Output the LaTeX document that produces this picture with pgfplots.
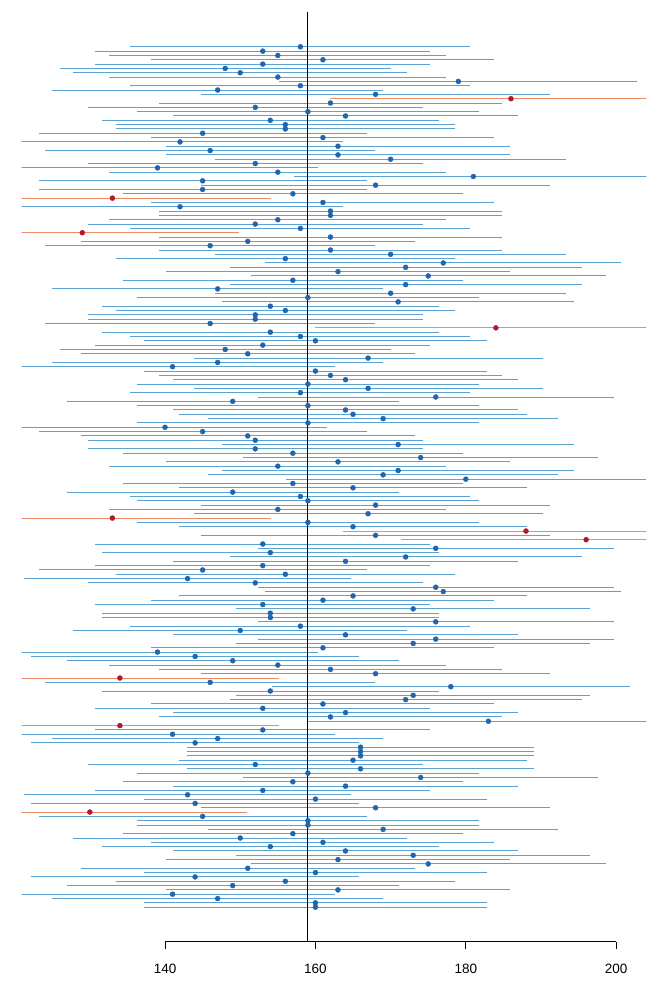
\documentclass[border=0pt]{standalone}
\usepackage{pgfplots}
\usepackage{pgfplotstable}
\pgfplotsset{compat=1.18}
\usepackage{fontspec}
\setmainfont{Liberation Sans}
\definecolor{ptblue}{HTML}{2166AC}
\definecolor{lnblue}{HTML}{5BA3D3}
\definecolor{ptred}{HTML}{B2182B}
\definecolor{lnred}{HTML}{EF8A62}
\pgfplotstableread{
k p e
1 158 22.6
2 153 22.3
3 155 22.4
4 161 22.8
5 153 22.3
6 148 22.0
7 150 22.2
8 155 22.4
9 179 23.8
10 158 22.6
11 147 22.0
12 168 23.2
14 162 22.8
15 152 22.3
16 159 22.7
17 164 23.0
18 154 22.4
19 156 22.5
20 156 22.5
21 145 21.8
22 161 22.8
23 142 21.7
24 163 22.9
25 146 21.9
26 163 22.9
27 170 23.3
28 152 22.3
29 139 21.4
30 155 22.4
31 181 23.9
32 145 21.8
33 168 23.2
34 145 21.8
35 157 22.6
37 161 22.8
38 142 21.7
39 162 22.8
40 162 22.8
41 155 22.4
42 152 22.3
43 158 22.6
45 162 22.8
46 151 22.2
47 146 21.9
48 162 22.8
49 170 23.3
50 156 22.5
51 177 23.7
52 172 23.4
53 163 22.9
54 175 23.6
55 157 22.6
56 172 23.4
57 147 22.0
58 170 23.3
59 159 22.7
60 171 23.4
61 154 22.4
62 156 22.5
63 152 22.3
64 152 22.3
65 146 21.9
67 154 22.4
68 158 22.6
69 160 22.8
70 153 22.3
71 148 22.0
72 151 22.2
73 167 23.2
74 147 22.0
75 141 21.6
76 160 22.8
77 162 22.8
78 164 23.0
79 159 22.7
80 167 23.2
81 158 22.6
82 176 23.7
83 149 22.1
84 159 22.7
85 164 23.0
86 165 23.1
87 169 23.3
88 159 22.7
89 140 21.5
90 145 21.8
91 151 22.2
92 152 22.3
93 171 23.4
94 152 22.3
95 157 22.6
96 174 23.6
97 163 22.9
98 155 22.4
99 171 23.4
100 169 23.3
101 180 23.9
102 157 22.6
103 165 23.1
104 149 22.1
105 158 22.6
106 159 22.7
107 168 23.2
108 155 22.4
109 167 23.2
111 159 22.7
112 165 23.1
114 168 23.2
116 153 22.3
117 176 23.7
118 154 22.4
119 172 23.4
120 164 23.0
121 153 22.3
122 145 21.8
123 156 22.5
124 143 21.7
125 152 22.3
126 176 23.7
127 177 23.7
128 165 23.1
129 161 22.8
130 153 22.3
131 173 23.5
132 154 22.4
133 154 22.4
134 176 23.7
135 158 22.6
136 150 22.2
137 164 23.0
138 176 23.7
139 173 23.5
140 161 22.8
141 139 21.4
142 144 21.8
143 149 22.1
144 155 22.4
145 162 22.8
146 168 23.2
148 146 21.9
149 178 23.8
150 154 22.4
151 173 23.5
152 172 23.4
153 161 22.8
154 153 22.3
155 164 23.0
156 162 22.8
157 183 24.0
159 153 22.3
160 141 21.6
161 147 22.0
162 144 21.8
163 166 23.1
164 166 23.1
165 166 23.1
166 165 23.1
167 152 22.3
168 166 23.1
169 159 22.7
170 174 23.6
171 157 22.6
172 164 23.0
173 153 22.3
174 143 21.7
175 160 22.8
176 144 21.8
177 168 23.2
179 145 21.8
180 159 22.7
181 159 22.7
182 169 23.3
183 157 22.6
184 150 22.2
185 161 22.8
186 154 22.4
187 164 23.0
188 173 23.5
189 163 22.9
190 175 23.6
191 151 22.2
192 160 22.8
193 144 21.8
194 156 22.5
195 149 22.1
196 163 22.9
197 141 21.6
198 147 22.0
199 160 22.8
200 160 22.8
}\bluedata
\pgfplotstableread{
k p e
13 186 24.1
36 133 21.1
44 129 20.8
66 184 24.1
110 133 21.1
113 188 24.3
115 196 24.6
147 134 21.1
158 134 21.1
178 130 20.9
}\reddata
\begin{document}
\begin{tikzpicture}
\path[use as bounding box] (0,0) rectangle (657bp,984bp);
\begin{axis}[
  at={(21.7bp,42.4bp)}, anchor=south west,
  scale only axis, width=624.6bp, height=929.2bp,
  xmin=120.94, xmax=204.0, ymin=-207.96, ymax=6.96,
  clip mode=individual,
  axis y line=none,
  axis x line*=bottom,
  x axis line style={draw=none},
  xtick={140,160,180,200},
  tick align=outside,
  major tick length=7.5bp,
  xtick style={black, line width=0.8bp},
  xticklabel style={font=\fontsize{13.5bp}{15bp}\selectfont, inner sep=0pt, yshift=-15bp},
  /pgf/number format/assume math mode=true,
  /pgf/number format/1000 sep={},
]
% interval lines
\addplot[draw=none, mark=none,
  error bars/.cd, x dir=both, x explicit, error mark=none,
  error bar style={line width=1bp, lnblue}]
  table[x=p, y expr=-\thisrow{k}, x error=e] {\bluedata};
\addplot[draw=none, mark=none,
  error bars/.cd, x dir=both, x explicit, error mark=none,
  error bar style={line width=1bp, lnred}]
  table[x=p, y expr=-\thisrow{k}, x error=e] {\reddata};
% reference line
\addplot[black, line width=1bp] coordinates {(159,-207.96) (159,8.0)};
% point estimates
\addplot[only marks, mark=*, mark size=2.5bp, mark options={draw=ptblue, fill=ptblue}]
  table[x=p, y expr=-\thisrow{k}] {\bluedata};
\addplot[only marks, mark=*, mark size=2.5bp, mark options={draw=ptred, fill=ptred}]
  table[x=p, y expr=-\thisrow{k}] {\reddata};
\draw[black, line width=0.8bp] (axis cs:140,-207.96) -- (axis cs:200,-207.96);
\end{axis}
\end{tikzpicture}
\end{document}
